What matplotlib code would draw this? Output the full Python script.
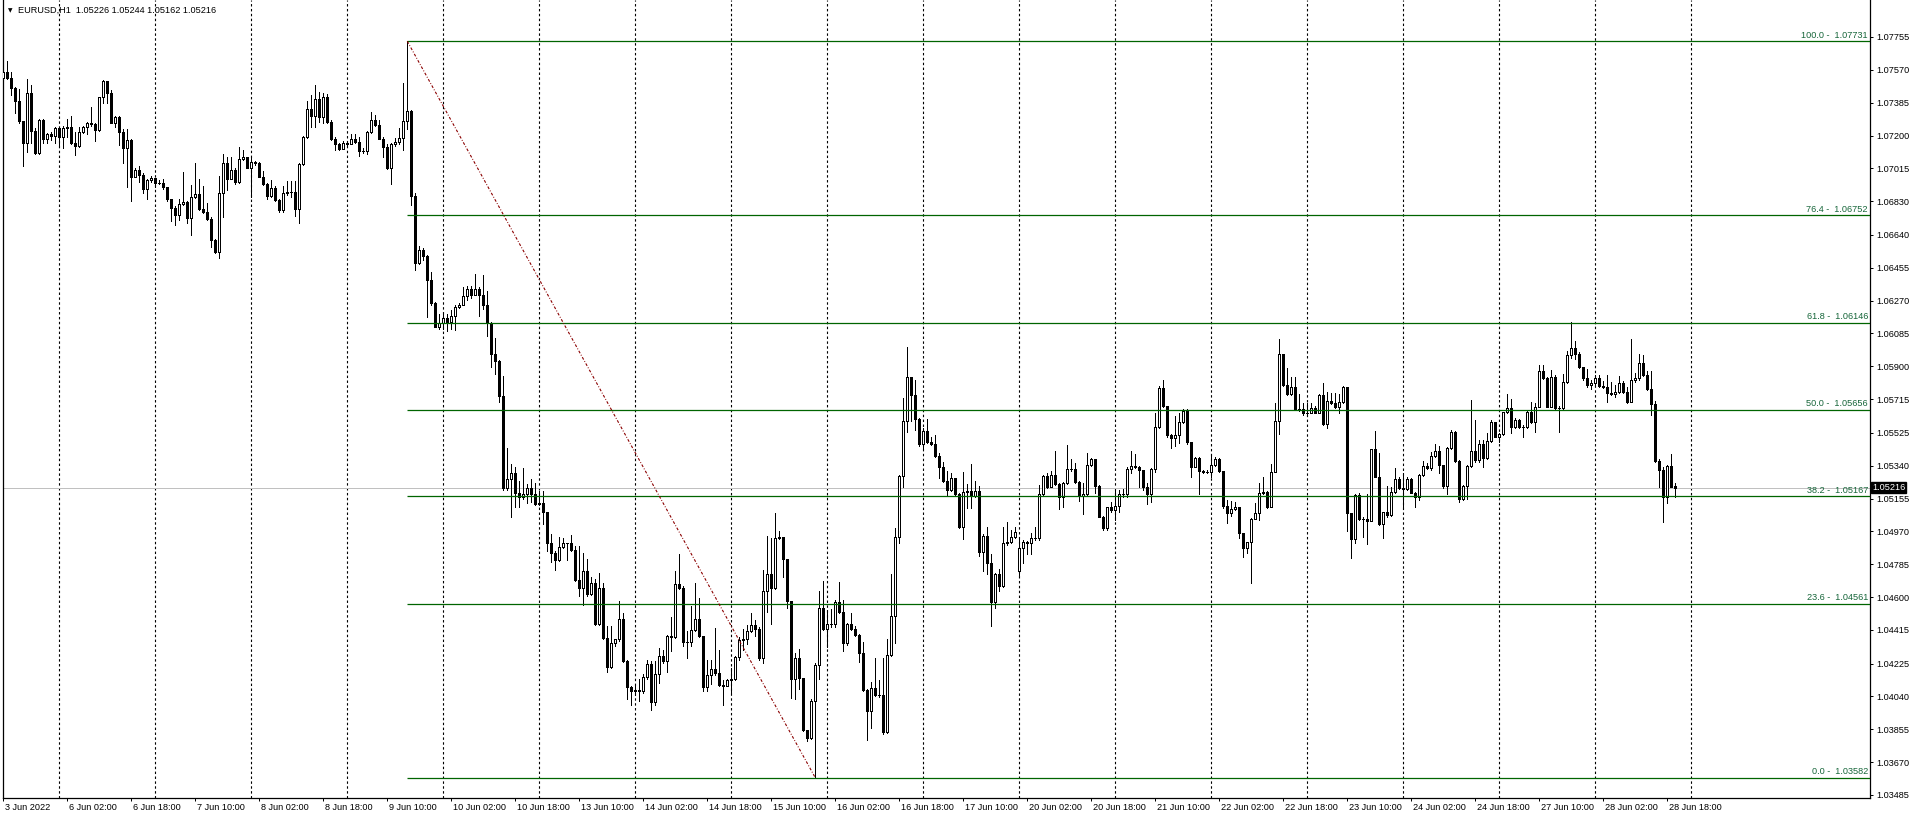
import matplotlib.pyplot as plt
import matplotlib.transforms as mtransforms
import numpy as np

# hourly EURUSD candles, bar 0 = 3 Jun 2022 10:00 (server time)
closes = [
    1.07556, 1.07526, 1.07466, 1.07394, 1.07282, 1.07156, 1.07438, 1.07227, 1.07099, 1.07287,
    1.07180, 1.07207, 1.07199, 1.07244, 1.07193, 1.07240, 1.07246, 1.07160, 1.07141, 1.07222,
    1.07246, 1.07268, 1.07263, 1.07231, 1.07415, 1.07507, 1.07441, 1.07272, 1.07302, 1.07222,
    1.07131, 1.07175, 1.06968, 1.07006, 1.06977, 1.06897, 1.06949, 1.06962, 1.06934, 1.06934,
    1.06912, 1.06840, 1.06793, 1.06752, 1.06814, 1.06825, 1.06737, 1.06852, 1.06870, 1.06786,
    1.06771, 1.06728, 1.06611, 1.06544, 1.06874, 1.07043, 1.06957, 1.07006, 1.06940, 1.07066,
    1.07077, 1.07019, 1.07049, 1.07047, 1.06968, 1.06925, 1.06861, 1.06902, 1.06837, 1.06780,
    1.06874, 1.06883, 1.06883, 1.06784, 1.07037, 1.07190, 1.07349, 1.07310, 1.07404, 1.07306,
    1.07415, 1.07278, 1.07182, 1.07150, 1.07126, 1.07156, 1.07154, 1.07182, 1.07163, 1.07113,
    1.07111, 1.07222, 1.07287, 1.07259, 1.07182, 1.07137, 1.07015, 1.07150, 1.07163, 1.07184,
    1.07282, 1.07338, 1.06861, 1.06483, 1.06555, 1.06520, 1.06384, 1.06254, 1.06124, 1.06144,
    1.06171, 1.06148, 1.06186, 1.06235, 1.06248, 1.06297, 1.06338, 1.06303, 1.06338, 1.06299,
    1.06248, 1.06144, 1.05967, 1.05928, 1.05734, 1.05216, 1.05265, 1.05298, 1.05187, 1.05162,
    1.05183, 1.05216, 1.05183, 1.05123, 1.05129, 1.05077, 1.04902, 1.04848, 1.04809, 1.04883,
    1.04906, 1.04902, 1.04863, 1.04696, 1.04650, 1.04745, 1.04615, 1.04677, 1.04450, 1.04650,
    1.04369, 1.04204, 1.04343, 1.04363, 1.04479, 1.04242, 1.04095, 1.04072, 1.04076, 1.04072,
    1.04149, 1.04221, 1.04010, 1.04165, 1.04266, 1.04237, 1.04378, 1.04373, 1.04673, 1.04650,
    1.04349, 1.04349, 1.04415, 1.04479, 1.04378, 1.04091, 1.04159, 1.04192, 1.04173, 1.04107,
    1.04099, 1.04134, 1.04137, 1.04262, 1.04359, 1.04363, 1.04407, 1.04440, 1.04421, 1.04256,
    1.04634, 1.04731, 1.04653, 1.04935, 1.04939, 1.04815, 1.04576, 1.04140, 1.04256, 1.04145,
    1.03849, 1.03804, 1.04013, 1.04217, 1.04537, 1.04421, 1.04446, 1.04448, 1.04573, 1.04517,
    1.04339, 1.04448, 1.04419, 1.04386, 1.04282, 1.04076, 1.03959, 1.04085, 1.04048, 1.04048,
    1.03841, 1.04273, 1.04493, 1.04936, 1.05283, 1.05591, 1.05841, 1.05738, 1.05601, 1.05462,
    1.05535, 1.05475, 1.05462, 1.05396, 1.05330, 1.05255, 1.05203, 1.05268, 1.05180, 1.04992,
    1.05193, 1.05195, 1.05171, 1.05195, 1.04851, 1.04943, 1.04789, 1.04573, 1.04727, 1.04662,
    1.04902, 1.04910, 1.04936, 1.04964, 1.04874, 1.04908, 1.04902, 1.04930, 1.04930, 1.05178,
    1.05283, 1.05221, 1.05287, 1.05236, 1.05161, 1.05240, 1.05319, 1.05319, 1.05249, 1.05171,
    1.05178, 1.05343, 1.05375, 1.05225, 1.05052, 1.04987, 1.05105, 1.05090, 1.05112, 1.05178,
    1.05178, 1.05319, 1.05338, 1.05330, 1.05315, 1.05218, 1.05178, 1.05319, 1.05559, 1.05775,
    1.05676, 1.05512, 1.05494, 1.05512, 1.05584, 1.05650, 1.05475, 1.05334, 1.05381, 1.05310,
    1.05306, 1.05306, 1.05343, 1.05377, 1.05310, 1.05114, 1.05071, 1.05094, 1.05105, 1.04958,
    1.04874, 1.04908, 1.05037, 1.05071, 1.05184, 1.05193, 1.05105, 1.05302, 1.05591, 1.05969,
    1.05794, 1.05742, 1.05781, 1.05657, 1.05657, 1.05634, 1.05638, 1.05666, 1.05638, 1.05738,
    1.05573, 1.05704, 1.05691, 1.05668, 1.05696, 1.05781, 1.05071, 1.04925, 1.05174, 1.05037,
    1.05037, 1.05030, 1.05434, 1.05278, 1.05011, 1.05077, 1.05062, 1.05193, 1.05263, 1.05212,
    1.05206, 1.05263, 1.05188, 1.05161, 1.05287, 1.05338, 1.05325, 1.05394, 1.05422, 1.05343,
    1.05227, 1.05437, 1.05527, 1.05368, 1.05150, 1.05225, 1.05338, 1.05424, 1.05372, 1.05462,
    1.05381, 1.05480, 1.05584, 1.05503, 1.05516, 1.05640, 1.05663, 1.05556, 1.05600, 1.05560,
    1.05559, 1.05644, 1.05584, 1.05672, 1.05873, 1.05835, 1.05672, 1.05837, 1.05663, 1.05663,
    1.05809, 1.05963, 1.06001, 1.05969, 1.05897, 1.05835, 1.05794, 1.05807, 1.05835, 1.05790,
    1.05781, 1.05751, 1.05742, 1.05757, 1.05804, 1.05757, 1.05700, 1.05822, 1.05835, 1.05916,
    1.05850, 1.05772, 1.05687, 1.05368, 1.05315, 1.05165, 1.05338, 1.05221, 1.05216,
]
highs = [
    1.07597, 1.07620, 1.07556, 1.07475, 1.07462, 1.07282, 1.07516, 1.07484, 1.07240, 1.07291,
    1.07291, 1.07216, 1.07222, 1.07250, 1.07250, 1.07253, 1.07293, 1.07310, 1.07222, 1.07250,
    1.07253, 1.07278, 1.07362, 1.07272, 1.07419, 1.07513, 1.07509, 1.07456, 1.07310, 1.07310,
    1.07235, 1.07235, 1.07178, 1.07015, 1.07028, 1.06991, 1.06953, 1.06974, 1.06959, 1.06949,
    1.06953, 1.06912, 1.06840, 1.06803, 1.06840, 1.06994, 1.06829, 1.06921, 1.07043, 1.06953,
    1.06917, 1.06822, 1.06739, 1.06615, 1.06972, 1.07094, 1.07077, 1.07081, 1.07015, 1.07137,
    1.07118, 1.07077, 1.07071, 1.07058, 1.07053, 1.07002, 1.06930, 1.06949, 1.06917, 1.06840,
    1.06917, 1.06945, 1.06944, 1.06944, 1.07043, 1.07197, 1.07394, 1.07428, 1.07484, 1.07447,
    1.07438, 1.07434, 1.07287, 1.07193, 1.07156, 1.07169, 1.07165, 1.07208, 1.07207, 1.07193,
    1.07128, 1.07227, 1.07334, 1.07315, 1.07287, 1.07193, 1.07152, 1.07156, 1.07184, 1.07240,
    1.07494, 1.07731, 1.07345, 1.06874, 1.06575, 1.06565, 1.06526, 1.06429, 1.06264, 1.06196,
    1.06196, 1.06196, 1.06216, 1.06245, 1.06254, 1.06345, 1.06351, 1.06351, 1.06419, 1.06345,
    1.06415, 1.06322, 1.06151, 1.06060, 1.05934, 1.05847, 1.05440, 1.05352, 1.05333, 1.05251,
    1.05329, 1.05236, 1.05265, 1.05240, 1.05197, 1.05197, 1.05081, 1.04955, 1.04858, 1.04941,
    1.04935, 1.04906, 1.04949, 1.04890, 1.04890, 1.04848, 1.04813, 1.04712, 1.04702, 1.04735,
    1.04677, 1.04436, 1.04436, 1.04366, 1.04576, 1.04508, 1.04246, 1.04101, 1.04101, 1.04140,
    1.04169, 1.04243, 1.04237, 1.04237, 1.04314, 1.04304, 1.04386, 1.04489, 1.04747, 1.04844,
    1.04664, 1.04411, 1.04547, 1.04677, 1.04596, 1.04382, 1.04246, 1.04243, 1.04425, 1.04304,
    1.04130, 1.04140, 1.04198, 1.04270, 1.04373, 1.04421, 1.04440, 1.04508, 1.04470, 1.04431,
    1.04751, 1.04945, 1.04935, 1.05071, 1.04974, 1.04935, 1.04815, 1.04576, 1.04285, 1.04309,
    1.04115, 1.03849, 1.04023, 1.04227, 1.04634, 1.04693, 1.04526, 1.04530, 1.04583, 1.04682,
    1.04583, 1.04455, 1.04508, 1.04436, 1.04392, 1.04348, 1.04080, 1.04123, 1.04254, 1.04132,
    1.04254, 1.04361, 1.04729, 1.04990, 1.05287, 1.05719, 1.06010, 1.05841, 1.05822, 1.05606,
    1.05550, 1.05601, 1.05503, 1.05511, 1.05413, 1.05362, 1.05311, 1.05296, 1.05272, 1.05184,
    1.05302, 1.05234, 1.05347, 1.05255, 1.05225, 1.04955, 1.04996, 1.04842, 1.04737, 1.04756,
    1.04996, 1.05020, 1.04977, 1.04996, 1.04925, 1.04921, 1.04917, 1.04958, 1.04992, 1.05231,
    1.05287, 1.05300, 1.05310, 1.05424, 1.05240, 1.05249, 1.05456, 1.05375, 1.05353, 1.05253,
    1.05240, 1.05413, 1.05381, 1.05375, 1.05231, 1.05056, 1.05109, 1.05137, 1.05206, 1.05203,
    1.05206, 1.05334, 1.05422, 1.05405, 1.05338, 1.05315, 1.05240, 1.05325, 1.05635, 1.05789,
    1.05822, 1.05676, 1.05516, 1.05619, 1.05635, 1.05657, 1.05657, 1.05475, 1.05390, 1.05390,
    1.05315, 1.05315, 1.05400, 1.05387, 1.05381, 1.05312, 1.05146, 1.05142, 1.05137, 1.05105,
    1.04962, 1.04911, 1.05043, 1.05127, 1.05240, 1.05274, 1.05197, 1.05347, 1.05691, 1.06051,
    1.05969, 1.05888, 1.05841, 1.05837, 1.05743, 1.05691, 1.05691, 1.05691, 1.05676, 1.05743,
    1.05804, 1.05757, 1.05747, 1.05747, 1.05743, 1.05788, 1.05781, 1.05071, 1.05178, 1.05184,
    1.05049, 1.05180, 1.05434, 1.05535, 1.05409, 1.05081, 1.05225, 1.05218, 1.05325, 1.05278,
    1.05300, 1.05274, 1.05268, 1.05193, 1.05293, 1.05368, 1.05357, 1.05418, 1.05460, 1.05450,
    1.05343, 1.05443, 1.05541, 1.05537, 1.05372, 1.05231, 1.05343, 1.05710, 1.05597, 1.05484,
    1.05484, 1.05526, 1.05597, 1.05582, 1.05522, 1.05644, 1.05742, 1.05713, 1.05610, 1.05605,
    1.05569, 1.05653, 1.05696, 1.05691, 1.05907, 1.05907, 1.05841, 1.05879, 1.05850, 1.05676,
    1.05856, 1.05988, 1.06147, 1.06042, 1.05982, 1.05888, 1.05882, 1.05822, 1.05850, 1.05850,
    1.05817, 1.05850, 1.05813, 1.05794, 1.05845, 1.05819, 1.05785, 1.06051, 1.05864, 1.05969,
    1.05963, 1.05875, 1.05875, 1.05704, 1.05375, 1.05334, 1.05343, 1.05405, 1.05244,
]
lows = [
    1.07447, 1.07516, 1.07428, 1.07329, 1.07268, 1.07028, 1.07109, 1.07156, 1.07096, 1.07096,
    1.07156, 1.07156, 1.07175, 1.07156, 1.07133, 1.07128, 1.07193, 1.07152, 1.07090, 1.07133,
    1.07216, 1.07208, 1.07253, 1.07169, 1.07227, 1.07381, 1.07381, 1.07268, 1.07250, 1.07146,
    1.07047, 1.06912, 1.06833, 1.06964, 1.06940, 1.06878, 1.06844, 1.06940, 1.06912, 1.06927,
    1.06897, 1.06833, 1.06720, 1.06696, 1.06724, 1.06808, 1.06705, 1.06639, 1.06846, 1.06780,
    1.06765, 1.06724, 1.06570, 1.06536, 1.06512, 1.06739, 1.06893, 1.06953, 1.06927, 1.06934,
    1.07062, 1.07015, 1.06855, 1.07034, 1.06964, 1.06921, 1.06840, 1.06855, 1.06833, 1.06771,
    1.06771, 1.06865, 1.06855, 1.06746, 1.06705, 1.07034, 1.07184, 1.07246, 1.07246, 1.07278,
    1.07268, 1.07272, 1.07175, 1.07118, 1.07118, 1.07128, 1.07146, 1.07152, 1.07156, 1.07086,
    1.07100, 1.07094, 1.07216, 1.07253, 1.07178, 1.07081, 1.07009, 1.06927, 1.07141, 1.07152,
    1.07118, 1.07235, 1.06808, 1.06442, 1.06477, 1.06497, 1.06177, 1.06245, 1.06119, 1.06109,
    1.06109, 1.06099, 1.06109, 1.06105, 1.06229, 1.06245, 1.06274, 1.06283, 1.06303, 1.06186,
    1.06225, 1.06070, 1.05895, 1.05857, 1.05701, 1.05201, 1.05201, 1.05051, 1.05110, 1.05110,
    1.05154, 1.05129, 1.05135, 1.05119, 1.05119, 1.05013, 1.04858, 1.04799, 1.04751, 1.04805,
    1.04877, 1.04809, 1.04858, 1.04693, 1.04605, 1.04557, 1.04605, 1.04611, 1.04444, 1.04444,
    1.04363, 1.04179, 1.04198, 1.04324, 1.04353, 1.04236, 1.04023, 1.03994, 1.04049, 1.04014,
    1.04062, 1.04140, 1.03965, 1.03994, 1.04115, 1.04231, 1.04179, 1.04295, 1.04367, 1.04644,
    1.04324, 1.04256, 1.04324, 1.04411, 1.04373, 1.04072, 1.04072, 1.04111, 1.04159, 1.04101,
    1.03990, 1.04101, 1.04053, 1.04130, 1.04246, 1.04304, 1.04334, 1.04402, 1.04378, 1.04246,
    1.04227, 1.04518, 1.04450, 1.04644, 1.04925, 1.04712, 1.04537, 1.04033, 1.04023, 1.04082,
    1.03843, 1.03791, 1.03800, 1.03582, 1.04140, 1.04417, 1.04320, 1.04433, 1.04433, 1.04508,
    1.04297, 1.04329, 1.04414, 1.04380, 1.04235, 1.04072, 1.03794, 1.03860, 1.04042, 1.04038,
    1.03828, 1.03832, 1.04267, 1.04339, 1.04902, 1.05218, 1.05531, 1.05593, 1.05541, 1.05451,
    1.05432, 1.05469, 1.05456, 1.05390, 1.05272, 1.05249, 1.05171, 1.05199, 1.05171, 1.04987,
    1.04927, 1.05099, 1.05099, 1.05165, 1.04831, 1.04748, 1.04727, 1.04438, 1.04541, 1.04634,
    1.04658, 1.04893, 1.04902, 1.04930, 1.04724, 1.04789, 1.04840, 1.04842, 1.04921, 1.04921,
    1.05174, 1.05212, 1.05218, 1.05231, 1.05094, 1.05109, 1.05236, 1.05311, 1.05244, 1.05142,
    1.05066, 1.05171, 1.05338, 1.05184, 1.05049, 1.04977, 1.04977, 1.05081, 1.05034, 1.05081,
    1.05165, 1.05165, 1.05297, 1.05325, 1.05218, 1.05203, 1.05124, 1.05137, 1.05306, 1.05550,
    1.05668, 1.05503, 1.05437, 1.05450, 1.05469, 1.05578, 1.05462, 1.05274, 1.05330, 1.05178,
    1.05297, 1.05300, 1.05274, 1.05338, 1.05306, 1.05099, 1.05015, 1.05058, 1.05090, 1.04930,
    1.04823, 1.04849, 1.04677, 1.05037, 1.05034, 1.05180, 1.05099, 1.05105, 1.05302, 1.05516,
    1.05788, 1.05738, 1.05738, 1.05653, 1.05650, 1.05625, 1.05631, 1.05634, 1.05634, 1.05634,
    1.05569, 1.05550, 1.05687, 1.05663, 1.05638, 1.05691, 1.04973, 1.04818, 1.04906, 1.05034,
    1.04940, 1.04896, 1.05030, 1.05274, 1.05005, 1.04934, 1.05052, 1.05056, 1.05188, 1.05206,
    1.05099, 1.05203, 1.05184, 1.05109, 1.05146, 1.05281, 1.05319, 1.05315, 1.05387, 1.05300,
    1.05212, 1.05180, 1.05432, 1.05362, 1.05137, 1.05146, 1.05150, 1.05334, 1.05358, 1.05362,
    1.05334, 1.05375, 1.05475, 1.05499, 1.05475, 1.05512, 1.05634, 1.05526, 1.05550, 1.05550,
    1.05499, 1.05550, 1.05578, 1.05531, 1.05668, 1.05830, 1.05668, 1.05668, 1.05657, 1.05527,
    1.05659, 1.05804, 1.05944, 1.05939, 1.05888, 1.05822, 1.05785, 1.05770, 1.05788, 1.05785,
    1.05775, 1.05696, 1.05738, 1.05728, 1.05747, 1.05747, 1.05695, 1.05700, 1.05813, 1.05822,
    1.05845, 1.05766, 1.05625, 1.05362, 1.05221, 1.05024, 1.05127, 1.05218, 1.05162,
]
first_open = 1.07526
open_overrides = {254: 1.04748, 418: 1.05226}   # weekend gap, current bar

fib_levels = [100.0, 76.4, 61.8, 50.0, 38.2, 23.6, 0.0]
fib_prices = [1.07731, 1.06752, 1.06146, 1.05656, 1.05167, 1.04561, 1.03582]
fib_high_bar, fib_low_bar = 101, 203

price_ticks = [1.03485, 1.03670, 1.03855, 1.04040, 1.04225, 1.04415, 1.04600, 1.04785,
               1.04970, 1.05155, 1.05340, 1.05525, 1.05715, 1.05900, 1.06085, 1.06270,
               1.06455, 1.06640, 1.06830, 1.07015, 1.07200, 1.07385, 1.07570, 1.07755]
time_labels = ["3 Jun 2022", "6 Jun 02:00", "6 Jun 18:00", "7 Jun 10:00", "8 Jun 02:00",
               "8 Jun 18:00", "9 Jun 10:00", "10 Jun 02:00", "10 Jun 18:00", "13 Jun 10:00",
               "14 Jun 02:00", "14 Jun 18:00", "15 Jun 10:00", "16 Jun 02:00", "16 Jun 18:00",
               "17 Jun 10:00", "20 Jun 02:00", "20 Jun 18:00", "21 Jun 10:00", "22 Jun 02:00",
               "22 Jun 18:00", "23 Jun 10:00", "24 Jun 02:00", "24 Jun 18:00", "27 Jun 10:00",
               "28 Jun 02:00", "28 Jun 18:00"]
label_every = 16
day_start_bars = list(range(14, 423, 24))
symbol = "EURUSD,H1"
last_price = 1.05216

W, H, DPI = 1916, 819, 100
FONT = ["Liberation Sans", "DejaVu Sans"]
FS = 6.6


def main():
    plt.rcParams["font.family"] = FONT
    plt.rcParams["font.size"] = FS

    c = np.array(closes)
    o = np.concatenate([[first_open], c[:-1]])
    for k, v in open_overrides.items():
        o[k] = v
    h = np.maximum(np.array(highs), np.maximum(o, c))
    lo = np.minimum(np.array(lows), np.minimum(o, c))
    x = np.arange(len(c))

    fig = plt.figure(figsize=(W / DPI, H / DPI), dpi=DPI, facecolor="white")
    ax = fig.add_axes([2.5 / W, 21 / H, 1867.5 / W, 798 / H])
    ax.set_xlim(-0.2, 466.675)
    ax.set_ylim(1.034679, 1.079634)

    for b in day_start_bars:
        ax.axvline(b, color="black", lw=0.8, ls=(0, (2.2, 2.2)), zorder=1)
    ax.axhline(last_price, color="#c0c0c0", lw=0.72, zorder=1)

    ax.vlines(x, lo, h, color="black", lw=0.72, zorder=3, antialiased=False)
    up = c >= o
    body_lo = np.minimum(o, c)
    body_h = np.abs(c - o)
    ax.bar(x[up], body_h[up], bottom=body_lo[up], width=0.5, color="white",
           edgecolor="black", linewidth=0.72, zorder=4, antialiased=False)
    ax.bar(x[~up], body_h[~up], bottom=body_lo[~up], width=0.5, color="black",
           edgecolor="black", linewidth=0.72, zorder=4, antialiased=False)

    # fibonacci retracement
    xr = ax.get_xlim()[1]
    ax.hlines(fib_prices, fib_high_bar, xr, color="#006400", lw=0.9, zorder=5)
    ax.plot([fib_high_bar, fib_low_bar], [fib_prices[0], fib_prices[-1]],
            color="#8b0000", lw=0.8, ls=(0, (2.5, 1.6, 0.8, 1.6)), zorder=5)
    lab_tr = mtransforms.blended_transform_factory(ax.transAxes, ax.transData)
    lab_off = mtransforms.ScaledTranslation(0, 1.5 / DPI, fig.dpi_scale_trans)
    for lvl, p in zip(fib_levels, fib_prices):
        ax.text(1 - 2 / 1867.5, p, f"{lvl:.1f} -  {p:.5f}", color="#17663a",
                ha="right", va="bottom", transform=lab_tr + lab_off, zorder=6)

    # axes
    ax.spines["top"].set_visible(False)
    for side in ("left", "bottom", "right"):
        ax.spines[side].set_linewidth(0.9)
    ax.yaxis.tick_right()
    ax.set_yticks(price_ticks)
    ax.set_yticklabels([f"{p:.5f}" for p in price_ticks])
    ax.tick_params(axis="y", direction="out", length=2.2, width=0.72, pad=2.2,
                   labelsize=FS)
    ax.set_xticks(np.arange(len(time_labels)) * label_every)
    ax.set_xticklabels(time_labels)
    ax.tick_params(axis="x", direction="out", length=2.5, width=0.72, pad=0.8,
                   labelsize=FS)
    shift = mtransforms.ScaledTranslation(2 / DPI, 0, fig.dpi_scale_trans)
    for lab in ax.get_xticklabels():
        lab.set_horizontalalignment("left")
        lab.set_transform(lab.get_transform() + shift)

    ax.text(1 + 2 / 1867.5, last_price, f"{last_price:.5f}", color="white",
            ha="left", va="center", transform=lab_tr, zorder=7,
            bbox=dict(boxstyle="square,pad=0.12", fc="black", ec="black"))

    # header
    ohlc = [o[-1], h[-1], lo[-1], c[-1]]
    fig.text(7.5 / W, 1 - 11 / H, "\u25bc", fontsize=4.2, family="DejaVu Sans",
             va="center", ha="left")
    fig.text(18 / W, 1 - 10.5 / H,
             f"{symbol}  " + " ".join(f"{v:.5f}" for v in ohlc),
             va="center", ha="left", fontsize=FS)

    fig.savefig("out.png", dpi=DPI, facecolor="white")


if __name__ == "__main__":
    main()
